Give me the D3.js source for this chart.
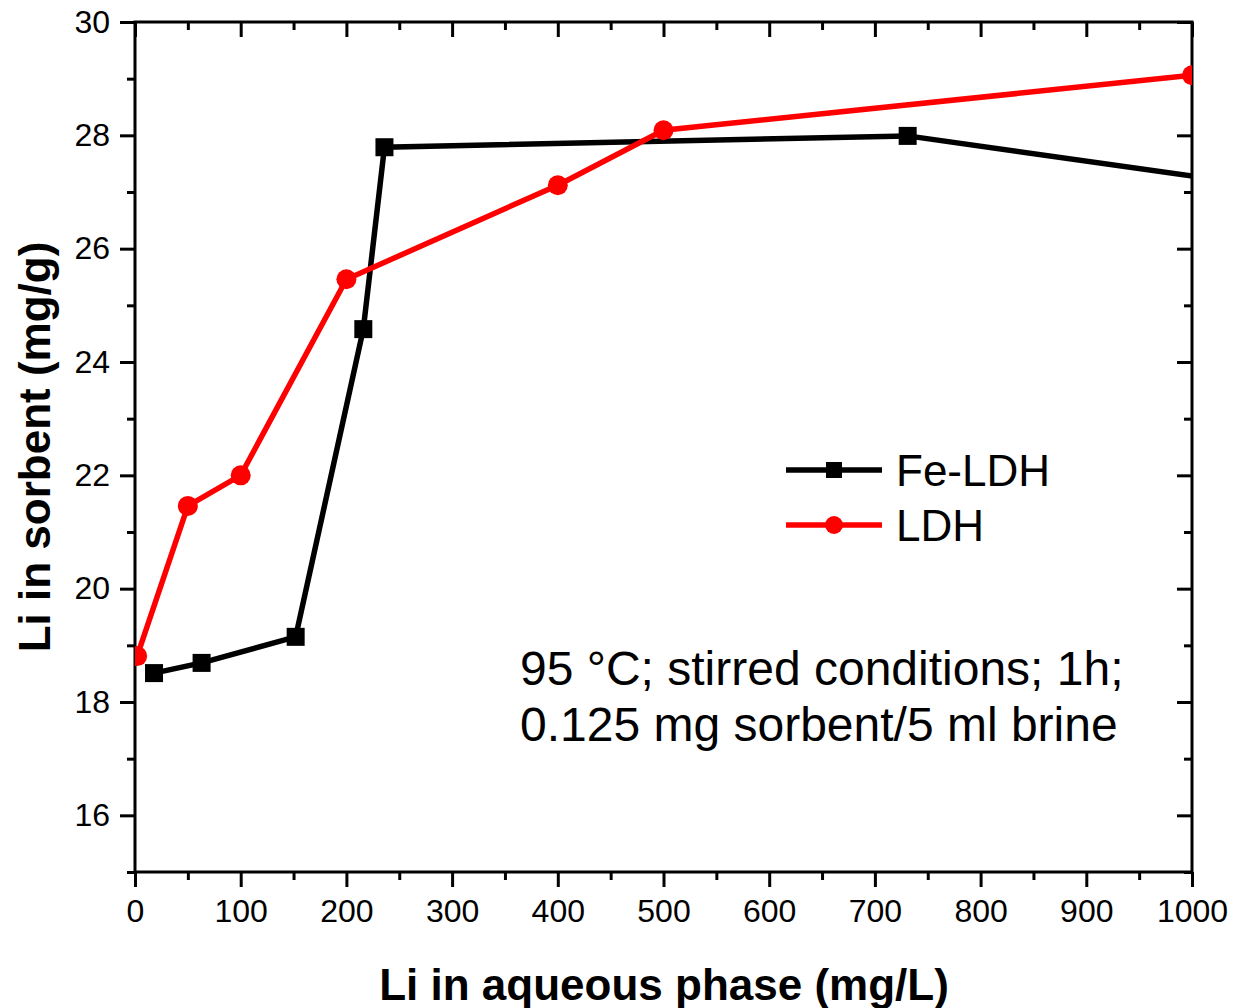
<!DOCTYPE html>
<html>
<head>
<meta charset="utf-8">
<script src="https://cdn.jsdelivr.net/npm/d3@7"></script>
<style>
  body { margin: 0; background: #fff; }
  text { font-family: "Liberation Sans", Arial, sans-serif; }
</style>
</head>
<body>
<div class="container"></div>
<script>
// data
var feX = [18, 63, 152, 216, 236, 731, 1100];
var feY = [18.51, 18.69, 19.15, 24.58, 27.79, 27.99, 27.02];
var ldhX = [2, 50, 100, 200, 400, 500, 1000];
var ldhY = [18.81, 21.46, 22.0, 25.46, 27.12, 28.09, 29.06];
var xTicks = [0, 100, 200, 300, 400, 500, 600, 700, 800, 900, 1000];
var yTicks = [16, 18, 20, 22, 24, 26, 28, 30];

var width = 1237, height = 1008;
var mLeft = 135, mRight = 1192, mTop = 22, mBottom = 872;

var svg = d3.select('.container').append('svg')
    .attr('width', width)
    .attr('height', height);

var x = d3.scaleLinear().domain([0, 1000]).range([mLeft, mRight]);
var y = d3.scaleLinear().domain([15, 30]).range([mBottom, mTop]);

svg.append('defs').append('clipPath').attr('id', 'plot-clip')
    .append('rect')
    .attr('x', mLeft).attr('y', mTop)
    .attr('width', mRight - mLeft).attr('height', mBottom - mTop);

var xMinor = d3.range(50, 1000, 100);
var yMinor = d3.range(15, 30, 2);

function styleAxis(g) {
    g.select('.domain').remove();
    g.selectAll('line').attr('stroke', '#000').attr('stroke-width', 3);
    g.selectAll('text').attr('font-size', 32).attr('fill', '#000');
}

// bottom axis: outward ticks
svg.append('g').attr('transform', 'translate(0,' + mBottom + ')')
    .call(d3.axisBottom(x).tickValues(xTicks).tickSize(15).tickPadding(12).tickFormat(d3.format('d')))
    .call(styleAxis);
svg.append('g').attr('transform', 'translate(0,' + mBottom + ')')
    .call(d3.axisBottom(x).tickValues(xMinor).tickSize(8).tickFormat(''))
    .call(styleAxis);

// left axis: outward ticks
svg.append('g').attr('transform', 'translate(' + mLeft + ',0)')
    .call(d3.axisLeft(y).tickValues(yTicks).tickSize(15).tickPadding(10))
    .call(styleAxis);
svg.append('g').attr('transform', 'translate(' + mLeft + ',0)')
    .call(d3.axisLeft(y).tickValues(yMinor).tickSize(8).tickFormat(''))
    .call(styleAxis);

// top and right: inward ticks, no labels
svg.append('g').attr('transform', 'translate(0,' + mTop + ')')
    .call(d3.axisTop(x).tickValues(xTicks).tickSize(-15).tickFormat(''))
    .call(styleAxis);
svg.append('g').attr('transform', 'translate(0,' + mTop + ')')
    .call(d3.axisTop(x).tickValues(xMinor).tickSize(-8).tickFormat(''))
    .call(styleAxis);
svg.append('g').attr('transform', 'translate(' + mRight + ',0)')
    .call(d3.axisRight(y).tickValues(yTicks).tickSize(-15).tickFormat(''))
    .call(styleAxis);
svg.append('g').attr('transform', 'translate(' + mRight + ',0)')
    .call(d3.axisRight(y).tickValues(yMinor).tickSize(-8).tickFormat(''))
    .call(styleAxis);

// frame
svg.append('rect')
    .attr('x', mLeft).attr('y', mTop)
    .attr('width', mRight - mLeft).attr('height', mBottom - mTop)
    .attr('fill', 'none').attr('stroke', '#000').attr('stroke-width', 3);

var line = d3.line().x(function (d) { return x(d[0]); }).y(function (d) { return y(d[1]); });
var feData = feX.map(function (v, i) { return [v, feY[i]]; });
var ldhData = ldhX.map(function (v, i) { return [v, ldhY[i]]; });

var plot = svg.append('g').attr('clip-path', 'url(#plot-clip)');

plot.append('path').datum(feData)
    .attr('d', line).attr('fill', 'none')
    .attr('stroke', '#000').attr('stroke-width', 5.5);
plot.selectAll('.fe').data(feData).enter().append('rect')
    .attr('class', 'fe')
    .attr('x', function (d) { return x(d[0]) - 9; })
    .attr('y', function (d) { return y(d[1]) - 9; })
    .attr('width', 18).attr('height', 18)
    .attr('fill', '#000');

plot.append('path').datum(ldhData)
    .attr('d', line).attr('fill', 'none')
    .attr('stroke', '#ff0000').attr('stroke-width', 5.5);
plot.selectAll('.ldh').data(ldhData).enter().append('circle')
    .attr('class', 'ldh')
    .attr('cx', function (d) { return x(d[0]); })
    .attr('cy', function (d) { return y(d[1]); })
    .attr('r', 10)
    .attr('fill', '#ff0000');

// legend
var legend = svg.append('g');
var items = [
    { name: 'Fe-LDH', color: '#000', shape: 'square', y: 470 },
    { name: 'LDH', color: '#ff0000', shape: 'circle', y: 525 }
];
items.forEach(function (it) {
    legend.append('line')
        .attr('x1', 786).attr('x2', 882)
        .attr('y1', it.y).attr('y2', it.y)
        .attr('stroke', it.color).attr('stroke-width', 5.5);
    if (it.shape == 'square') {
        legend.append('rect')
            .attr('x', 826).attr('y', it.y - 8)
            .attr('width', 16).attr('height', 16)
            .attr('fill', it.color);
    } else {
        legend.append('circle')
            .attr('cx', 834).attr('cy', it.y).attr('r', 9)
            .attr('fill', it.color);
    }
    legend.append('text')
        .attr('x', 896).attr('y', it.y + 16)
        .attr('font-size', 44)
        .text(it.name);
});

// annotation
svg.append('text').attr('x', 520).attr('y', 685)
    .attr('font-size', 48).text('95 \u00B0C; stirred conditions; 1h;');
svg.append('text').attr('x', 520).attr('y', 741)
    .attr('font-size', 48).text('0.125 mg sorbent/5 ml brine');

// axis titles
svg.append('text')
    .attr('x', 664).attr('y', 1000)
    .attr('text-anchor', 'middle')
    .attr('font-size', 44).attr('font-weight', 'bold')
    .text('Li in aqueous phase (mg/L)');
svg.append('text')
    .attr('transform', 'translate(50,' + ((mTop + mBottom) / 2) + ') rotate(-90)')
    .attr('text-anchor', 'middle')
    .attr('font-size', 44).attr('font-weight', 'bold')
    .text('Li in sorbent (mg/g)');
</script>
</body>
</html>
